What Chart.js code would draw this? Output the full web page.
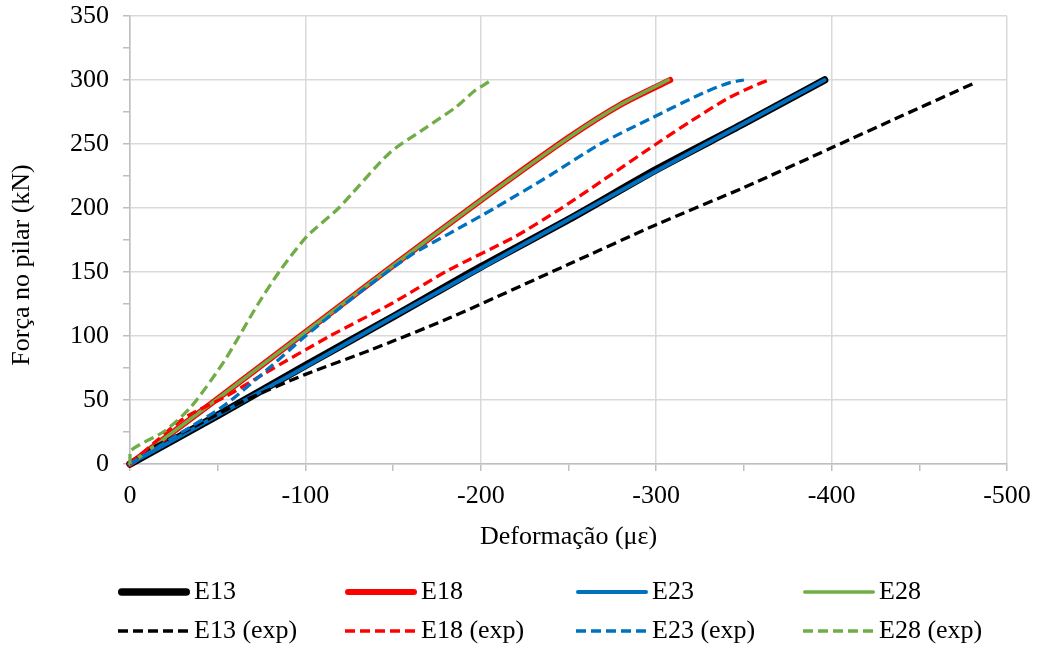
<!DOCTYPE html>
<html><head><meta charset="utf-8">
<script src="https://cdn.jsdelivr.net/npm/chart.js@4.4.1/dist/chart.umd.min.js"></script>
<style>html,body{margin:0;padding:0;background:#fff;}canvas{display:block;}</style>
</head><body>
<canvas id="c" width="1038" height="650"></canvas>
<script>
// ---- data ----
const seriesNames = ['E13','E18','E23','E28','E13 (exp)','E18 (exp)','E23 (exp)','E28 (exp)'];
const xTitle = 'Deformação (με)';
const yTitle = 'Força no pilar (kN)';
const xTickLabels = ['0','-100','-200','-300','-400','-500'];
const yTickLabels = ['0','50','100','150','200','250','300','350'];

const e13X = [0,-50,-100,-150,-200,-250,-300,-350,-396];
const e13Y = [0,38,77,115,154,191,230,266,300];
const e18X = [0,-50,-100,-150,-200,-250,-280,-308];
const e18Y = [0,51,103,155,206,255,281,300];
const e23X = [0,-50,-100,-150,-200,-250,-300,-350,-396];
const e23Y = [0,38,76,115,153,191,229,266,300];
const e28X = [0,-50,-100,-150,-200,-250,-280,-307];
const e28Y = [0,51,103,155,206,255,281,300];
const e13expX = [0,-6,-13,-35,-66,-100,-137,-182,-250,-300,-350,-400,-440,-482];
const e13expY = [0,7,13,28,50,70,89,114,156,187,216,247,272,298];
const e18expX = [0,-15,-31,-55,-77,-114,-150,-181,-220,-245,-270,-300,-320,-340,-355,-364];
const e18expY = [0,18,36,53,71,100,126,151,178,199,222,250,268,285,295,300];
const e23expX = [0,-25,-54,-81,-100,-130,-160,-182,-208,-240,-268,-297,-327,-342,-350];
const e23expY = [0,21,46,77,100,133,163,180,200,226,250,270,290,298,300];
const e28expX = [0,0,-20,-35,-54,-73,-86,-101,-119,-148,-169,-186,-196,-205];
const e28expY = [0,10,26,45,81,125,152,178,200,243,263,279,291,299];

const seriesX = [e13X,e18X,e23X,e28X,e13expX,e18expX,e23expX,e28expX];
const seriesY = [e13Y,e18Y,e23Y,e28Y,e13expY,e18expY,e23expY,e28expY];

// ---- styles ----
const colors = ['#000000','#FF0000','#0070C0','#70AD47','#000000','#FF0000','#0070C0','#70AD47'];
const widths = [7.5,6,4,3.5,3.3,3.3,3.3,3.3];
const dashes = [[],[],[],[],[10,5],[10,5],[10,5],[10,5]];
const FONT_FAMILY = "'Liberation Serif','Times New Roman',serif";
const FONT_SIZE = 26;

const datasets = seriesNames.map((name,i)=>({
  label: name,
  data: seriesX[i].map((x,j)=>({x:x, y:seriesY[i][j]})),
  borderColor: colors[i],
  backgroundColor: colors[i],
  borderWidth: widths[i],
  borderDash: dashes[i],
  borderCapStyle: dashes[i].length ? 'butt' : 'round',
  borderJoinStyle: 'round',
  pointRadius: 0,
  pointHoverRadius: 0,
  tension: 0.25,
  fill: false,
  clip: false,
  order: seriesNames.length - i
}));

const titlesPlugin = {
  id: 'titles',
  afterDraw(chart){
    const ctx = chart.ctx;
    const a = chart.chartArea;
    ctx.save();
    ctx.fillStyle = '#000';
    ctx.font = FONT_SIZE + 'px ' + FONT_FAMILY;
    ctx.textAlign = 'center';
    ctx.textBaseline = 'middle';
    ctx.fillText(xTitle, (a.left + a.right)/2, 537);
    ctx.translate(22.5, 265);
    ctx.rotate(-Math.PI/2);
    ctx.fillText(yTitle, 0, 0);
    ctx.restore();
  }
};

const legendPlugin = {
  id: 'customLegend',
  afterDraw(chart){
    const ctx = chart.ctx;
    const cols = [118, 345, 576, 803];
    const rows = [592, 631];
    const len = 72;
    chart.data.datasets.forEach((ds,i)=>{
      const x0 = cols[i % 4], y = rows[Math.floor(i/4)];
      ctx.save();
      ctx.strokeStyle = ds.borderColor;
      ctx.lineWidth = ds.borderWidth;
      ctx.lineCap = ds.borderCapStyle;
      ctx.setLineDash(ds.borderDash);
      const inset = ds.borderCapStyle === 'round' ? ds.borderWidth/2 : 0;
      ctx.beginPath();
      ctx.moveTo(x0 + inset, y);
      ctx.lineTo(x0 + len - inset, y);
      ctx.stroke();
      ctx.setLineDash([]);
      ctx.fillStyle = '#000';
      ctx.font = FONT_SIZE + 'px ' + FONT_FAMILY;
      ctx.textAlign = 'left';
      ctx.textBaseline = 'middle';
      ctx.fillText(ds.label, x0 + len + 4, y);
      ctx.restore();
    });
  }
};

const gridCol = '#d9d9d9';
const axisCol = '#bfbfbf';

new Chart(document.getElementById('c'), {
  type: 'line',
  data: { datasets },
  plugins: [titlesPlugin, legendPlugin],
  options: {
    responsive: false,
    animation: false,
    devicePixelRatio: 1,
    layout: { padding: { left: 0, right: 31, top: 16, bottom: 90 } },
    plugins: { legend: { display: false }, tooltip: { enabled: false } },
    scales: {
      x: {
        type: 'linear',
        min: -500, max: 0, reverse: true,
        afterFit(scale){ scale.height = 96; scale.paddingLeft = 0; scale.paddingRight = 0; },
        grid: {
          color: (c)=> (c.tick && Math.abs(c.tick.value) % 100 === 0) ? gridCol : 'rgba(0,0,0,0)',
          lineWidth: 1.5,
          tickColor: axisCol,
          tickLength: 7,
          drawTicks: true
        },
        border: { display: true, color: axisCol, width: 1.5 },
        ticks: {
          stepSize: 50,
          autoSkip: false,
          maxRotation: 0,
          padding: 10,
          color: '#000',
          font: { family: FONT_FAMILY, size: FONT_SIZE },
          callback: (v)=> { const s = String(Math.round(v)); return xTickLabels.includes(s) ? s : ''; }
        },
        title: { display: false }
      },
      y: {
        type: 'linear',
        min: 0, max: 350,
        afterFit(scale){ scale.width = 130; scale.paddingTop = 0; scale.paddingBottom = 0; },
        grid: {
          color: (c)=> (c.tick && c.tick.value % 50 === 0) ? gridCol : 'rgba(0,0,0,0)',
          lineWidth: 1.5,
          tickColor: axisCol,
          tickLength: 7,
          drawTicks: true
        },
        border: { display: true, color: axisCol, width: 1.5 },
        ticks: {
          stepSize: 25,
          autoSkip: false,
          padding: 14,
          color: '#000',
          font: { family: FONT_FAMILY, size: FONT_SIZE },
          callback: (v)=> { const s = String(Math.round(v)); return yTickLabels.includes(s) ? s : ''; }
        },
        title: { display: false }
      }
    }
  }
});
</script>
</body></html>
